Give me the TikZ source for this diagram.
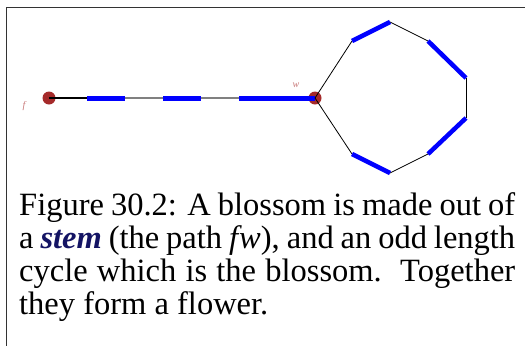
\documentclass[tikz,border=0pt]{standalone}
\usepackage{fontspec}
\setmainfont{Liberation Serif}
\usepackage{xcolor}
\usetikzlibrary{positioning}
\definecolor{ladrillo}{HTML}{A52A2A}
\definecolor{rosado}{HTML}{C87878}
\definecolor{azul}{HTML}{0000FF}
\definecolor{marino}{HTML}{141464}
\tikzset{
  vert/.style={circle, fill=ladrillo, inner sep=0pt, minimum size=13pt},
  etiq/.style={text=rosado, font=\fontsize{10}{11}\selectfont\itshape, inner sep=0pt},
  emparejada/.style={draw=azul, line width=5pt},
  libre/.style={draw=black, line width=0.8pt},
  librest/.style={draw=gray, line width=1.2pt},
}
\begin{document}
\begin{tikzpicture}[x=1pt, y=-1pt]
  \useasboundingbox (0,0) rectangle (525,346);
  \draw[line width=1pt, black!80] (525,7) -- (6,7) -- (6,346);
  % stem
  \node[vert] (f) at (49,98) {};
  \node[vert] (w) at (315,98) {};
  \node[etiq] (lf) at (24,106) {f};
  \node[etiq] (lw) at (296,85) {w};
  \coordinate (s1) at (87,98);
  \coordinate (s2) at (125,98);
  \coordinate (s3) at (163,98);
  \coordinate (s4) at (201,98);
  \coordinate (s5) at (239,98);
  \coordinate (s6) at (277,98);
  \draw[libre, line width=1.5pt] (f.center) -- (s1);
  \foreach \a/\b in {s2/s3,s4/s5} \draw[librest] (\a) -- (\b);
  \foreach \a/\b in {s1/s2,s3/s4,s5/s6,s6/w.center} \draw[emparejada] (\a) -- (\b);
  % blossom
  \coordinate (c1) at (352,41);
  \coordinate (c2) at (390,22);
  \coordinate (c3) at (428,41);
  \coordinate (c4) at (466,78);
  \coordinate (c5) at (466,118);
  \coordinate (c6) at (428,154);
  \coordinate (c7) at (390,173);
  \coordinate (c8) at (352,154);
  \foreach \a/\b in {w.center/c1,c2/c3,c4/c5,c6/c7,c8/w.center} \draw[libre] (\a) -- (\b);
  \foreach \a/\b in {c1/c2,c3/c4,c5/c6,c7/c8} \draw[emparejada, line width=4.5pt] (\a) -- (\b);
  % caption
  \node[anchor=north west, inner sep=0pt, text width=496pt, align=justify,
        font=\fontsize{32.5}{33}\selectfont] (leyenda) at (19,192)
    {Figure 30.2: A blossom is made out of\linebreak a \textcolor{marino}{\textbf{\textit{stem}}} (the path \textit{f\kern1pt w}), and an odd length\linebreak cycle which is the blossom.\ \ Together\linebreak they form a flower.};
\end{tikzpicture}
\end{document}
